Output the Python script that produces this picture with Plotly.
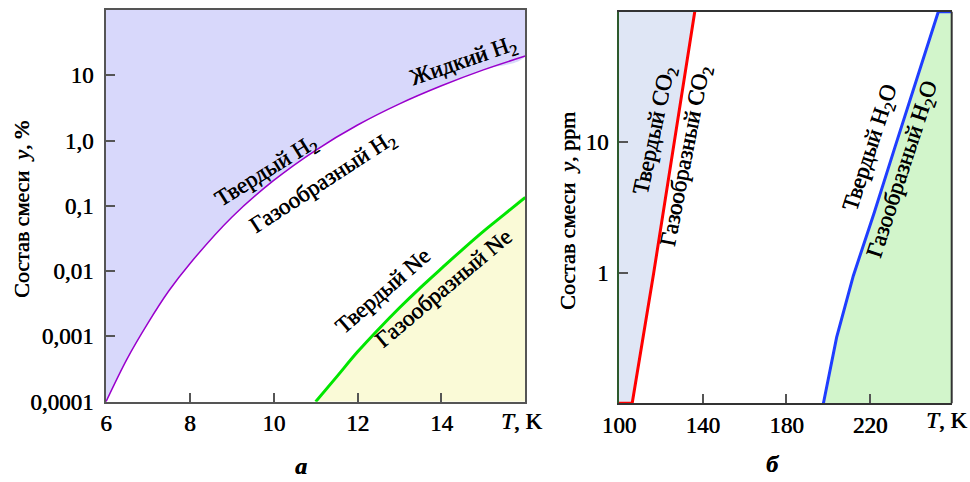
import plotly.graph_objects as go

# ---- data ----
# Panel a: composition y, % vs T, K
H2_T = [6, 6.5, 7, 7.5, 8, 9, 10, 11, 12, 13, 14, 15, 16]
H2_Y = [1.0e-4, 4.5e-4, 1.6e-3, 5.0e-3, 0.013, 0.067, 0.245, 0.71, 1.73, 3.65, 6.9, 12.1, 19.7]
NE_T = [11.0, 11.5, 12.0, 12.5, 13.0, 13.5, 14.0, 14.5, 15.0, 15.5, 16.0]
NE_Y = [1.0e-4, 2.4e-4, 5.8e-4, 1.29e-3, 2.75e-3, 5.6e-3, 0.011, 0.0214, 0.0407, 0.0741, 0.135]
# Panel b: composition y, ppm vs T, K
CO2_T = [100, 106.3, 116.6, 126.5, 136.2]
CO2_Y = [0.1, 0.1, 1.0, 10.0, 100.0]
H2O_T = [197.7, 204, 212, 222, 232, 242, 252.6, 259]
H2O_Y = [0.1, 0.32, 0.95, 2.9, 9.3, 29, 100, 100]

X1_MIN, X1_MAX = 6, 16
Y1_MIN, Y1_MAX = 1e-4, 100
X2_MIN, X2_MAX = 100, 259
Y2_MIN, Y2_MAX = 0.1, 100

X1_TICKS = [6, 8, 10, 12, 14]
Y1_TICKS = [0.0001, 0.001, 0.01, 0.1, 1, 10]
Y1_TICKTEXT = ["0,0001", "0,001", "0,01", "0,1", "1,0", "10"]
X2_TICKS = [100, 140, 180, 220]
Y2_TICKS = [1, 10]
Y2_TICKTEXT = ["1", "10"]

W, H = 970, 482
FONT = "Liberation Serif"
AX = "#555555"
TXT = "#000000"
SHADOW = "0.6px 0px 0px #000"


def P(x, y):
    return x / W, 1 - y / H


fig = go.Figure()

# fills
fig.add_trace(go.Scatter(x=H2_T + [X1_MAX, X1_MIN], y=H2_Y + [Y1_MAX, Y1_MAX],
                         fill="toself", fillcolor="#d8d8fb", mode="lines",
                         line=dict(width=0, shape="spline", color="rgba(0,0,0,0)"),
                         xaxis="x", yaxis="y", hoverinfo="skip"))
fig.add_trace(go.Scatter(x=NE_T + [X1_MAX], y=NE_Y + [Y1_MIN],
                         fill="toself", fillcolor="#fafad7", mode="lines",
                         line=dict(width=0, shape="spline", color="rgba(0,0,0,0)"),
                         xaxis="x", yaxis="y", hoverinfo="skip"))
fig.add_trace(go.Scatter(x=CO2_T + [X2_MIN], y=CO2_Y + [Y2_MAX],
                         fill="toself", fillcolor="#dfe6f5", mode="none",
                         xaxis="x2", yaxis="y2", hoverinfo="skip"))
fig.add_trace(go.Scatter(x=H2O_T + [X2_MAX], y=H2O_Y + [Y2_MIN],
                         fill="toself", fillcolor="#d2f5cb", mode="none",
                         xaxis="x2", yaxis="y2", hoverinfo="skip"))

# lines
fig.add_trace(go.Scatter(x=H2_T, y=H2_Y, mode="lines",
                         line=dict(color="#9a00cc", width=1.5, shape="spline"),
                         xaxis="x", yaxis="y"))
fig.add_trace(go.Scatter(x=NE_T, y=NE_Y, mode="lines",
                         line=dict(color="#00e600", width=3, shape="spline"),
                         xaxis="x", yaxis="y"))
fig.add_trace(go.Scatter(x=CO2_T, y=CO2_Y, mode="lines", line=dict(color="#ff0000", width=3),
                         xaxis="x2", yaxis="y2"))
fig.add_trace(go.Scatter(x=H2O_T, y=H2O_Y, mode="lines", line=dict(color="#1f3dff", width=3),
                         xaxis="x2", yaxis="y2"))

tickfont = dict(family=FONT, size=23, color=TXT, shadow=SHADOW)
common = dict(showgrid=False, zeroline=False, ticks="inside", ticklen=9, tickwidth=1.5,
              tickcolor=AX, linewidth=2, tickfont=tickfont, automargin=False)

fig.update_layout(
    width=W, height=H, margin=dict(l=0, r=0, t=0, b=0, autoexpand=False),
    paper_bgcolor="white", plot_bgcolor="white", showlegend=False,
    font=dict(family=FONT, color=TXT),
    xaxis=dict(domain=[106 / W, 525.3 / W], range=[X1_MIN, X1_MAX], tickvals=X1_TICKS,
               linecolor=AX, mirror=True, anchor="y", **common),
    yaxis=dict(domain=[1 - 401.7 / H, 1 - 10 / H], type="log", range=[-4, 2],
               tickvals=Y1_TICKS, ticktext=Y1_TICKTEXT, linecolor=AX, mirror=True,
               anchor="x", ticklabelstandoff=6, **common),
    xaxis2=dict(domain=[619 / W, 951.7 / W], range=[X2_MIN, X2_MAX], tickvals=X2_TICKS,
                linecolor="#333333", mirror=True, anchor="y2", **common),
    yaxis2=dict(domain=[1 - 403.3 / H, 1 - 11.7 / H], type="log", range=[-1, 2],
                tickvals=Y2_TICKS, ticktext=Y2_TICKTEXT, linecolor="#2d5a2d", mirror=False,
                anchor="x2", ticklabelstandoff=4, **common),
)

fig.add_shape(type="line", xref="x2 domain", yref="y2 domain", x0=1, x1=1, y0=0, y1=1,
              line=dict(color="#333333", width=2))

labels = [
    ("Твердый H<sub>2</sub>", 266, 172, -32, 23),
    ("Газообразный H<sub>2</sub>", 323, 183, -33, 23),
    ("Жидкий H<sub>2</sub>", 463, 62, -19, 23),
    ("Твердый Ne", 382, 291, -41, 23),
    ("Газообразный Ne", 443, 288, -40, 23),
    ("Твердый CO<sub>2</sub>", 655, 131, -78, 23),
    ("Газообразный CO<sub>2</sub>", 686, 157, -79, 23),
    ("Твердый H<sub>2</sub>O", 871, 148, -72, 23),
    ("Газообразный H<sub>2</sub>O", 903, 170, -72, 23),
    ("Состав смеси  <i>y</i>, %", 21, 210, -90, 22),
    ("Состав смеси  <i>y</i>, ppm", 567, 211, -90, 22),
    ("<i>T</i>, K", 521, 421, 0, 23),
    ("<i>T</i>, K", 946, 420, 0, 23),
    ("<i><b>а</b></i>", 301, 466, 0, 24),
    ("<i><b>б</b></i>", 772, 464, 0, 24),
]
for text, x, y, ang, size in labels:
    px, py = P(x, y)
    fig.add_annotation(text=text, x=px, y=py, xref="paper", yref="paper",
                       xanchor="center", yanchor="middle", showarrow=False,
                       textangle=ang,
                       font=dict(family=FONT, size=size, color=TXT, shadow=SHADOW))

fig.write_html("out.html", config={"displayModeBar": False},
               post_script="document.body.style.margin='0px';document.body.style.overflow='hidden';")
